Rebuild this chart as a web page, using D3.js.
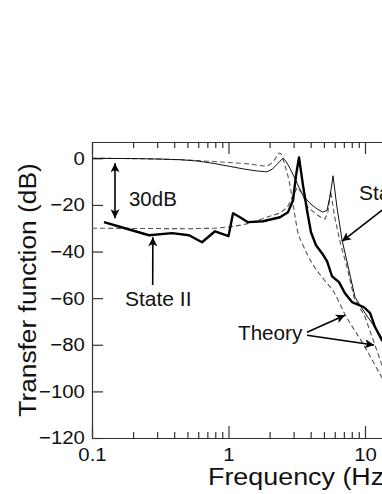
<!DOCTYPE html>
<html>
<head>
<meta charset="utf-8">
<script src="https://cdn.jsdelivr.net/npm/d3@7"></script>
<style>
  body { margin: 0; background: #fff; }
  svg { display: block; font-family: "Liberation Sans", Arial, Helvetica, sans-serif; }
  .axis path, .axis line { stroke: #333; stroke-width: 1.2; }
  .axis text { fill: #111; font-size: 18.5px; }
</style>
</head>
<body>
<div id="chart"></div>
<script>
// State I, measured (thin solid line)
const stateIFreq = [0.1, 0.2, 0.3, 0.45, 0.6, 0.8, 1.03, 1.3, 1.6, 1.91, 2.1, 2.3, 2.51, 2.65, 2.82, 3.0, 3.18, 3.51, 3.95, 4.4, 4.9, 5.27, 5.56, 5.83, 6.23, 6.79, 7.63, 8.45, 10, 11.25, 13.3, 15];
const stateIdB   = [0, -0.1, -0.3, -0.6, -1.2, -2.3, -3.5, -4.6, -5.4, -5.8, -4.6, -2.2, 0.1, -1.5, -4.3, -7.5, -10.7, -15.9, -19.3, -21.5, -23.1, -22.3, -15.9, -7.5, -21, -35.1, -48, -59.6, -66.4, -70.7, -77, -81];

// State II, measured (thick solid line)
const stateIIFreq = [0.1224, 0.1744, 0.2616, 0.386, 0.5135, 0.6396, 0.7963, 1.0, 1.079, 1.214, 1.389, 1.79, 2.385, 2.729, 2.97, 3.124, 3.284, 3.514, 3.76, 4.02, 4.375, 4.84, 5.27, 5.73, 6.45, 7.13, 8.03, 9.84, 10.9, 11.84, 13.3, 15];
const stateIIdB   = [-27.4, -30, -33, -32.1, -33, -36, -31.3, -33.4, -23.6, -25.3, -27.4, -27, -25.3, -23.1, -18, -7.3, 0.4, -11.6, -22.3, -31.7, -37.3, -40.7, -44.1, -50.6, -53.1, -57.9, -61.7, -63.9, -66.4, -72.4, -78, -82];

// Theory curves (dashed)
const theoryAFreq = [0.1, 0.3, 0.6, 1, 1.36, 1.9, 2.15, 2.38, 2.59, 2.82, 3.02, 3.23, 3.46, 4.2, 5, 6, 7, 10, 13.3, 15];
const theoryAdB   = [0, -0.3, -1, -1.8, -2.3, -3.3, -1, 2.3, -3, -11.6, -22.3, -32, -36.4, -46, -52, -58, -66, -81, -94, -99];
const theoryBFreq = [0.1, 0.5, 0.8, 1, 1.25, 1.5, 1.85, 2.1, 2.38, 2.7, 2.97, 3.2, 3.45, 3.8, 4.4, 4.9, 5.1, 5.35, 5.6, 6.0, 6.6, 7.4, 8.3, 10, 13.3, 15];
const theoryBdB   = [-30, -30.2, -30, -29.5, -28.6, -27.5, -25.5, -24.5, -23.5, -21, -16, -12.5, -15, -20.9, -24, -25.8, -26, -23, -14, -25.3, -36.4, -47, -59.6, -68, -88.7, -94];

// axis ticks
const yTicks = [0, -20, -40, -60, -80, -100, -120];
const xMajor = [0.1, 1, 10];
const xMinor = [0.2, 0.3, 0.4, 0.5, 0.6, 0.7, 0.8, 0.9, 2, 3, 4, 5, 6, 7, 8, 9, 20];

let width = 382,
    height = 494;

let x = d3.scaleLog().domain([0.1, 20]).range([92, 406.1]);
let y = d3.scaleLinear().domain([-120, 7]).range([438, 142]);

let svg = d3.select("#chart")
    .append("svg")
    .attr("width", width)
    .attr("height", height);

// arrow head
svg.append("defs").append("marker")
    .attr("id", "head")
    .attr("viewBox", "0 0 10 10")
    .attr("refX", 10)
    .attr("refY", 5)
    .attr("markerUnits", "userSpaceOnUse")
    .attr("markerWidth", 10)
    .attr("markerHeight", 9)
    .attr("orient", "auto-start-reverse")
    .append("path")
    .attr("d", "M0,0L10,5L0,10L2.5,5Z")
    .attr("fill", "#000");

svg.append("clipPath").attr("id", "plot")
    .append("rect")
    .attr("x", x(0.1)).attr("y", y(7))
    .attr("width", x(20) - x(0.1)).attr("height", y(-120) - y(7));

// axes
svg.append("g").attr("class", "axis")
    .attr("transform", `translate(${x(0.1)},0)`)
    .call(d3.axisLeft(y).tickValues(yTicks).tickSizeInner(-11).tickSizeOuter(0).tickPadding(6.5))
    .selectAll("text").attr("transform", "scale(1.1,1)");

svg.append("g").attr("class", "axis")
    .attr("transform", `translate(0,${y(-120)})`)
    .call(d3.axisBottom(x).tickValues(xMajor).tickSizeInner(-12).tickSizeOuter(0).tickPadding(10)
        .tickFormat(d => d < 1 ? "0.1" : String(d)))
    .selectAll("text").attr("transform", "scale(1.1,1)");
svg.append("g").attr("class", "axis")
    .attr("transform", `translate(0,${y(-120)})`)
    .call(d3.axisBottom(x).tickValues(xMinor).tickSizeInner(-6).tickSizeOuter(0).tickFormat(""));

svg.append("g").attr("class", "axis")
    .attr("transform", `translate(0,${y(7)})`)
    .call(d3.axisTop(x).tickValues(xMajor).tickSizeInner(-12).tickSizeOuter(0).tickFormat(""));
svg.append("g").attr("class", "axis")
    .attr("transform", `translate(0,${y(7)})`)
    .call(d3.axisTop(x).tickValues(xMinor).tickSizeInner(-6).tickSizeOuter(0).tickFormat(""));

// curves
let zip = (fs, vs) => fs.map((f, i) => [f, vs[i]]);
let smooth = d3.line().x(d => x(d[0])).y(d => y(d[1])).curve(d3.curveMonotoneX);
let straight = d3.line().x(d => x(d[0])).y(d => y(d[1]));

let plot = svg.append("g").attr("clip-path", "url(#plot)");

plot.append("path").datum(zip(theoryAFreq, theoryAdB))
    .attr("d", smooth).attr("fill", "none")
    .attr("stroke", "#555").attr("stroke-width", 1.1).attr("stroke-dasharray", "5,3");
plot.append("path").datum(zip(theoryBFreq, theoryBdB))
    .attr("d", straight).attr("fill", "none")
    .attr("stroke", "#555").attr("stroke-width", 1.1).attr("stroke-dasharray", "5,3");
plot.append("path").datum(zip(stateIFreq, stateIdB))
    .attr("d", straight).attr("fill", "none")
    .attr("stroke", "#111").attr("stroke-width", 1);
plot.append("path").datum(zip(stateIIFreq, stateIIdB))
    .attr("d", straight).attr("fill", "none")
    .attr("stroke", "#000").attr("stroke-width", 2.4).attr("stroke-linejoin", "round");

// annotations
let arrow = function(f1, d1, f2, d2, both) {
    svg.append("line")
        .attr("x1", x(f1)).attr("y1", y(d1))
        .attr("x2", x(f2)).attr("y2", y(d2))
        .attr("stroke", "#000").attr("stroke-width", 1.6)
        .attr("marker-end", "url(#head)")
        .attr("marker-start", both ? "url(#head)" : null);
};
// text is drawn slightly wider than the font, as in the original figure
let label = function(f, d, txt, size, sx) {
    svg.append("text")
        .attr("transform", `translate(${x(f)},${y(d)}) scale(${sx},1)`)
        .style("font-size", size + "px")
        .attr("fill", "#111")
        .text(txt);
};

arrow(0.1474, -2.1, 0.1474, -25.7, true);
label(0.1866, -20.6, "30dB", 19.5, 1.05);

arrow(0.2784, -54.4, 0.279, -33.9);
label(0.1744, -63.2, "State II", 21, 1.0);

arrow(16.6, -18, 6.78, -35.6);
label(9.04, -18, "State I", 21, 1.0);

arrow(3.76, -74.6, 7.13, -67.3);
arrow(3.76, -75.9, 11.64, -80.1);
label(1.174, -78, "Theory", 19.5, 1.06);

// axis titles
svg.append("text")
    .attr("transform", "translate(208,485) scale(1.12,1)")
    .style("font-size", "24px")
    .attr("fill", "#111")
    .text("Frequency (Hz)");

svg.append("text")
    .attr("transform", "translate(36,290) rotate(-90) scale(1.12,1)")
    .style("text-anchor", "middle")
    .style("font-size", "23.5px")
    .attr("fill", "#111")
    .text("Transfer function (dB)");
</script>
</body>
</html>
